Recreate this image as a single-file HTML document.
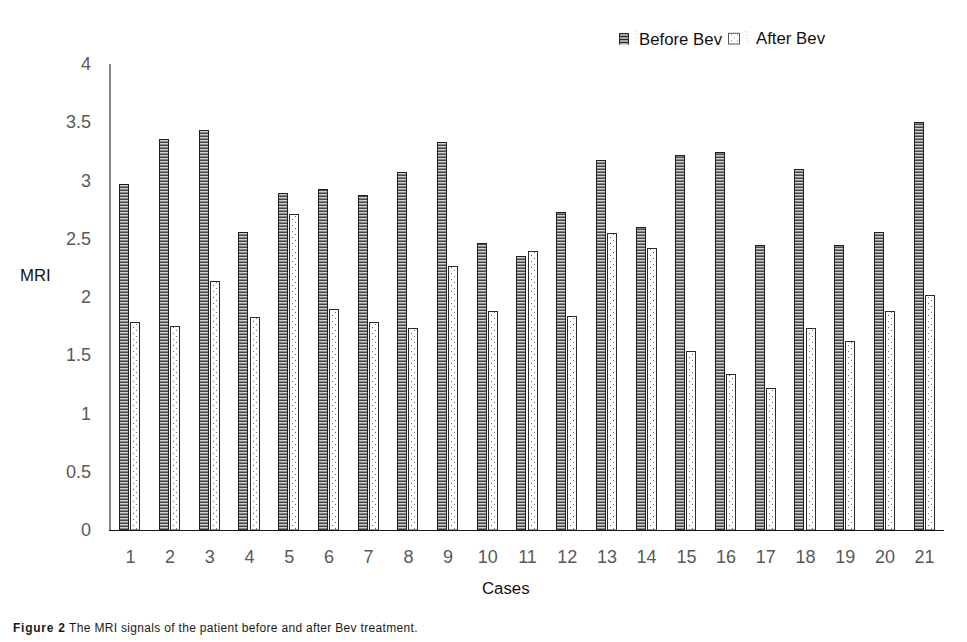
<!DOCTYPE html>
<html><head><meta charset="utf-8"><style>
html,body{margin:0;padding:0;background:#fff;}
body{width:967px;height:642px;overflow:hidden;position:relative;}
svg{position:absolute;left:0;top:0;}
.tick{font-family:"Liberation Sans",sans-serif;font-size:18px;fill:#595959;}
.lab{font-family:"Liberation Sans",sans-serif;fill:#111;}
.cap{position:absolute;left:13px;top:621px;font-family:"Liberation Sans",sans-serif;font-size:12px;letter-spacing:0.32px;color:#1a1a1a;white-space:nowrap;line-height:14px;}
.cap b{font-weight:bold;letter-spacing:0.75px;}
</style></head><body>
<svg width="967" height="642" viewBox="0 0 967 642">
<defs>
<pattern id="hs" patternUnits="userSpaceOnUse" x="0" y="1" width="6" height="3">
<rect width="6" height="3" fill="#cfcfcf"/><rect width="6" height="1" fill="#484848"/><rect y="2" width="6" height="1" fill="#868686"/>
</pattern>
<pattern id="dt" patternUnits="userSpaceOnUse" x="0" y="0" width="6" height="6">
<rect width="6" height="6" fill="#fff"/><rect x="1" y="4" width="1" height="1" fill="#6a6a6a"/><rect x="4" y="1" width="1" height="1" fill="#6a6a6a"/>
</pattern>
<pattern id="d0" patternUnits="userSpaceOnUse" x="130" y="530" width="6" height="6"><rect x="3" y="1" width="1" height="1" fill="#666"/><rect x="0" y="4" width="1" height="1" fill="#666"/></pattern><pattern id="d1" patternUnits="userSpaceOnUse" x="170" y="530" width="6" height="6"><rect x="3" y="1" width="1" height="1" fill="#666"/><rect x="0" y="4" width="1" height="1" fill="#666"/></pattern><pattern id="d2" patternUnits="userSpaceOnUse" x="210" y="530" width="6" height="6"><rect x="3" y="1" width="1" height="1" fill="#666"/><rect x="0" y="4" width="1" height="1" fill="#666"/></pattern><pattern id="d3" patternUnits="userSpaceOnUse" x="250" y="530" width="6" height="6"><rect x="3" y="1" width="1" height="1" fill="#666"/><rect x="0" y="4" width="1" height="1" fill="#666"/></pattern><pattern id="d4" patternUnits="userSpaceOnUse" x="289" y="530" width="6" height="6"><rect x="3" y="1" width="1" height="1" fill="#666"/><rect x="0" y="4" width="1" height="1" fill="#666"/></pattern><pattern id="d5" patternUnits="userSpaceOnUse" x="329" y="530" width="6" height="6"><rect x="3" y="1" width="1" height="1" fill="#666"/><rect x="0" y="4" width="1" height="1" fill="#666"/></pattern><pattern id="d6" patternUnits="userSpaceOnUse" x="369" y="530" width="6" height="6"><rect x="3" y="1" width="1" height="1" fill="#666"/><rect x="0" y="4" width="1" height="1" fill="#666"/></pattern><pattern id="d7" patternUnits="userSpaceOnUse" x="408" y="530" width="6" height="6"><rect x="3" y="1" width="1" height="1" fill="#666"/><rect x="0" y="4" width="1" height="1" fill="#666"/></pattern><pattern id="d8" patternUnits="userSpaceOnUse" x="448" y="530" width="6" height="6"><rect x="3" y="1" width="1" height="1" fill="#666"/><rect x="0" y="4" width="1" height="1" fill="#666"/></pattern><pattern id="d9" patternUnits="userSpaceOnUse" x="488" y="530" width="6" height="6"><rect x="3" y="1" width="1" height="1" fill="#666"/><rect x="0" y="4" width="1" height="1" fill="#666"/></pattern><pattern id="d10" patternUnits="userSpaceOnUse" x="528" y="530" width="6" height="6"><rect x="3" y="1" width="1" height="1" fill="#666"/><rect x="0" y="4" width="1" height="1" fill="#666"/></pattern><pattern id="d11" patternUnits="userSpaceOnUse" x="567" y="530" width="6" height="6"><rect x="3" y="1" width="1" height="1" fill="#666"/><rect x="0" y="4" width="1" height="1" fill="#666"/></pattern><pattern id="d12" patternUnits="userSpaceOnUse" x="607" y="530" width="6" height="6"><rect x="3" y="1" width="1" height="1" fill="#666"/><rect x="0" y="4" width="1" height="1" fill="#666"/></pattern><pattern id="d13" patternUnits="userSpaceOnUse" x="647" y="530" width="6" height="6"><rect x="3" y="1" width="1" height="1" fill="#666"/><rect x="0" y="4" width="1" height="1" fill="#666"/></pattern><pattern id="d14" patternUnits="userSpaceOnUse" x="686" y="530" width="6" height="6"><rect x="3" y="1" width="1" height="1" fill="#666"/><rect x="0" y="4" width="1" height="1" fill="#666"/></pattern><pattern id="d15" patternUnits="userSpaceOnUse" x="726" y="530" width="6" height="6"><rect x="3" y="1" width="1" height="1" fill="#666"/><rect x="0" y="4" width="1" height="1" fill="#666"/></pattern><pattern id="d16" patternUnits="userSpaceOnUse" x="766" y="530" width="6" height="6"><rect x="3" y="1" width="1" height="1" fill="#666"/><rect x="0" y="4" width="1" height="1" fill="#666"/></pattern><pattern id="d17" patternUnits="userSpaceOnUse" x="806" y="530" width="6" height="6"><rect x="3" y="1" width="1" height="1" fill="#666"/><rect x="0" y="4" width="1" height="1" fill="#666"/></pattern><pattern id="d18" patternUnits="userSpaceOnUse" x="845" y="530" width="6" height="6"><rect x="3" y="1" width="1" height="1" fill="#666"/><rect x="0" y="4" width="1" height="1" fill="#666"/></pattern><pattern id="d19" patternUnits="userSpaceOnUse" x="885" y="530" width="6" height="6"><rect x="3" y="1" width="1" height="1" fill="#666"/><rect x="0" y="4" width="1" height="1" fill="#666"/></pattern><pattern id="d20" patternUnits="userSpaceOnUse" x="925" y="530" width="6" height="6"><rect x="3" y="1" width="1" height="1" fill="#666"/><rect x="0" y="4" width="1" height="1" fill="#666"/></pattern>
</defs>
<rect x="109" y="64" width="2" height="466" fill="#858585"/>
<rect x="119.50" y="184.50" width="9.00" height="345.50" fill="url(#hs)" stroke="#1e1e1e" stroke-width="1"/><rect x="130.50" y="322.50" width="9.00" height="207.50" fill="#fff" stroke="#2a2a2a" stroke-width="1"/><rect x="131" y="323" width="8" height="207" fill="url(#d0)"/><rect x="159.50" y="139.50" width="9.00" height="390.50" fill="url(#hs)" stroke="#1e1e1e" stroke-width="1"/><rect x="170.50" y="326.50" width="9.00" height="203.50" fill="#fff" stroke="#2a2a2a" stroke-width="1"/><rect x="171" y="327" width="8" height="203" fill="url(#d1)"/><rect x="199.50" y="130.50" width="9.00" height="399.50" fill="url(#hs)" stroke="#1e1e1e" stroke-width="1"/><rect x="210.50" y="281.50" width="9.00" height="248.50" fill="#fff" stroke="#2a2a2a" stroke-width="1"/><rect x="211" y="282" width="8" height="248" fill="url(#d2)"/><rect x="238.50" y="232.50" width="9.00" height="297.50" fill="url(#hs)" stroke="#1e1e1e" stroke-width="1"/><rect x="250.50" y="317.50" width="9.00" height="212.50" fill="#fff" stroke="#2a2a2a" stroke-width="1"/><rect x="251" y="318" width="8" height="212" fill="url(#d3)"/><rect x="278.50" y="193.50" width="9.00" height="336.50" fill="url(#hs)" stroke="#1e1e1e" stroke-width="1"/><rect x="289.50" y="214.50" width="9.00" height="315.50" fill="#fff" stroke="#2a2a2a" stroke-width="1"/><rect x="290" y="215" width="8" height="315" fill="url(#d4)"/><rect x="318.50" y="189.50" width="9.00" height="340.50" fill="url(#hs)" stroke="#1e1e1e" stroke-width="1"/><rect x="329.50" y="309.50" width="9.00" height="220.50" fill="#fff" stroke="#2a2a2a" stroke-width="1"/><rect x="330" y="310" width="8" height="220" fill="url(#d5)"/><rect x="358.50" y="195.50" width="9.00" height="334.50" fill="url(#hs)" stroke="#1e1e1e" stroke-width="1"/><rect x="369.50" y="322.50" width="9.00" height="207.50" fill="#fff" stroke="#2a2a2a" stroke-width="1"/><rect x="370" y="323" width="8" height="207" fill="url(#d6)"/><rect x="397.50" y="172.50" width="9.00" height="357.50" fill="url(#hs)" stroke="#1e1e1e" stroke-width="1"/><rect x="408.50" y="328.50" width="9.00" height="201.50" fill="#fff" stroke="#2a2a2a" stroke-width="1"/><rect x="409" y="329" width="8" height="201" fill="url(#d7)"/><rect x="437.50" y="142.50" width="9.00" height="387.50" fill="url(#hs)" stroke="#1e1e1e" stroke-width="1"/><rect x="448.50" y="266.50" width="9.00" height="263.50" fill="#fff" stroke="#2a2a2a" stroke-width="1"/><rect x="449" y="267" width="8" height="263" fill="url(#d8)"/><rect x="477.50" y="243.50" width="9.00" height="286.50" fill="url(#hs)" stroke="#1e1e1e" stroke-width="1"/><rect x="488.50" y="311.50" width="9.00" height="218.50" fill="#fff" stroke="#2a2a2a" stroke-width="1"/><rect x="489" y="312" width="8" height="218" fill="url(#d9)"/><rect x="516.50" y="256.50" width="9.00" height="273.50" fill="url(#hs)" stroke="#1e1e1e" stroke-width="1"/><rect x="528.50" y="251.50" width="9.00" height="278.50" fill="#fff" stroke="#2a2a2a" stroke-width="1"/><rect x="529" y="252" width="8" height="278" fill="url(#d10)"/><rect x="556.50" y="212.50" width="9.00" height="317.50" fill="url(#hs)" stroke="#1e1e1e" stroke-width="1"/><rect x="567.50" y="316.50" width="9.00" height="213.50" fill="#fff" stroke="#2a2a2a" stroke-width="1"/><rect x="568" y="317" width="8" height="213" fill="url(#d11)"/><rect x="596.50" y="160.50" width="9.00" height="369.50" fill="url(#hs)" stroke="#1e1e1e" stroke-width="1"/><rect x="607.50" y="233.50" width="9.00" height="296.50" fill="#fff" stroke="#2a2a2a" stroke-width="1"/><rect x="608" y="234" width="8" height="296" fill="url(#d12)"/><rect x="636.50" y="227.50" width="9.00" height="302.50" fill="url(#hs)" stroke="#1e1e1e" stroke-width="1"/><rect x="647.50" y="248.50" width="9.00" height="281.50" fill="#fff" stroke="#2a2a2a" stroke-width="1"/><rect x="648" y="249" width="8" height="281" fill="url(#d13)"/><rect x="675.50" y="155.50" width="9.00" height="374.50" fill="url(#hs)" stroke="#1e1e1e" stroke-width="1"/><rect x="686.50" y="351.50" width="9.00" height="178.50" fill="#fff" stroke="#2a2a2a" stroke-width="1"/><rect x="687" y="352" width="8" height="178" fill="url(#d14)"/><rect x="715.50" y="152.50" width="9.00" height="377.50" fill="url(#hs)" stroke="#1e1e1e" stroke-width="1"/><rect x="726.50" y="374.50" width="9.00" height="155.50" fill="#fff" stroke="#2a2a2a" stroke-width="1"/><rect x="727" y="375" width="8" height="155" fill="url(#d15)"/><rect x="755.50" y="245.50" width="9.00" height="284.50" fill="url(#hs)" stroke="#1e1e1e" stroke-width="1"/><rect x="766.50" y="388.50" width="9.00" height="141.50" fill="#fff" stroke="#2a2a2a" stroke-width="1"/><rect x="767" y="389" width="8" height="141" fill="url(#d16)"/><rect x="794.50" y="169.50" width="9.00" height="360.50" fill="url(#hs)" stroke="#1e1e1e" stroke-width="1"/><rect x="806.50" y="328.50" width="9.00" height="201.50" fill="#fff" stroke="#2a2a2a" stroke-width="1"/><rect x="807" y="329" width="8" height="201" fill="url(#d17)"/><rect x="834.50" y="245.50" width="9.00" height="284.50" fill="url(#hs)" stroke="#1e1e1e" stroke-width="1"/><rect x="845.50" y="341.50" width="9.00" height="188.50" fill="#fff" stroke="#2a2a2a" stroke-width="1"/><rect x="846" y="342" width="8" height="188" fill="url(#d18)"/><rect x="874.50" y="232.50" width="9.00" height="297.50" fill="url(#hs)" stroke="#1e1e1e" stroke-width="1"/><rect x="885.50" y="311.50" width="9.00" height="218.50" fill="#fff" stroke="#2a2a2a" stroke-width="1"/><rect x="886" y="312" width="8" height="218" fill="url(#d19)"/><rect x="914.50" y="122.50" width="9.00" height="407.50" fill="url(#hs)" stroke="#1e1e1e" stroke-width="1"/><rect x="925.50" y="295.50" width="9.00" height="234.50" fill="#fff" stroke="#2a2a2a" stroke-width="1"/><rect x="926" y="296" width="8" height="234" fill="url(#d20)"/>
<rect x="109" y="530" width="835" height="1" fill="#151515"/>
<text x="91" y="536.0" text-anchor="end" class="tick">0</text><text x="91" y="477.8" text-anchor="end" class="tick">0.5</text><text x="91" y="419.5" text-anchor="end" class="tick">1</text><text x="91" y="361.2" text-anchor="end" class="tick">1.5</text><text x="91" y="303.0" text-anchor="end" class="tick">2</text><text x="91" y="244.8" text-anchor="end" class="tick">2.5</text><text x="91" y="186.5" text-anchor="end" class="tick">3</text><text x="91" y="128.2" text-anchor="end" class="tick">3.5</text><text x="91" y="70.0" text-anchor="end" class="tick">4</text>
<text x="130.4" y="562.7" text-anchor="middle" class="tick">1</text><text x="170.1" y="562.7" text-anchor="middle" class="tick">2</text><text x="209.8" y="562.7" text-anchor="middle" class="tick">3</text><text x="249.5" y="562.7" text-anchor="middle" class="tick">4</text><text x="289.2" y="562.7" text-anchor="middle" class="tick">5</text><text x="328.9" y="562.7" text-anchor="middle" class="tick">6</text><text x="368.6" y="562.7" text-anchor="middle" class="tick">7</text><text x="408.4" y="562.7" text-anchor="middle" class="tick">8</text><text x="448.1" y="562.7" text-anchor="middle" class="tick">9</text><text x="487.8" y="562.7" text-anchor="middle" class="tick">10</text><text x="527.5" y="562.7" text-anchor="middle" class="tick">11</text><text x="567.2" y="562.7" text-anchor="middle" class="tick">12</text><text x="606.9" y="562.7" text-anchor="middle" class="tick">13</text><text x="646.6" y="562.7" text-anchor="middle" class="tick">14</text><text x="686.4" y="562.7" text-anchor="middle" class="tick">15</text><text x="726.1" y="562.7" text-anchor="middle" class="tick">16</text><text x="765.8" y="562.7" text-anchor="middle" class="tick">17</text><text x="805.5" y="562.7" text-anchor="middle" class="tick">18</text><text x="845.2" y="562.7" text-anchor="middle" class="tick">19</text><text x="884.9" y="562.7" text-anchor="middle" class="tick">20</text><text x="924.6" y="562.7" text-anchor="middle" class="tick">21</text>
<text x="20" y="281" class="lab" font-size="16.8">MRI</text>
<text x="482" y="593.6" class="lab" font-size="16.8">Cases</text>
<g><rect x="619" y="33" width="10" height="11.5" fill="#a6a6a6"/><rect x="619" y="33" width="10" height="1" fill="#2a2a2a"/><rect x="619" y="36" width="10" height="1" fill="#2a2a2a"/><rect x="619" y="39" width="10" height="1" fill="#2a2a2a"/><rect x="619" y="42" width="10" height="1" fill="#2a2a2a"/><rect x="619" y="33" width="1" height="11.5" fill="#2a2a2a"/><rect x="628" y="33" width="1" height="11.5" fill="#2a2a2a"/></g>
<text x="639" y="44.6" class="lab" font-size="16.8">Before Bev</text>
<rect x="728.5" y="33.3" width="11" height="10.7" fill="#fff" stroke="#555" stroke-width="1"/><g fill="#8a8a8a"><rect x="731" y="34.5" width="1" height="1"/><rect x="737" y="34.5" width="1" height="1"/><rect x="734" y="37.4" width="1" height="1"/><rect x="731" y="40.2" width="1" height="1"/><rect x="737" y="40.2" width="1" height="1"/></g>
<g fill="#e9e9e9"><rect x="745" y="31" width="3.5" height="1"/><rect x="745.5" y="34.5" width="3.5" height="1"/><rect x="745" y="37.8" width="3.5" height="1"/><path d="M745 43.5 L749 39.7 L749.6 40.4 L745.6 44 Z"/><rect x="634.5" y="30.5" width="3.5" height="1"/><rect x="635" y="34" width="3.5" height="1"/><rect x="634.5" y="37.3" width="3.5" height="1"/><path d="M634.5 43 L638.3 39.3 L638.9 40 L635.1 43.5 Z"/></g>
<text x="756" y="43.7" class="lab" font-size="16.8">After Bev</text>
</svg>
<div class="cap"><b>Figure 2</b> The MRI signals of the patient before and after Bev treatment.</div>
</body></html>
